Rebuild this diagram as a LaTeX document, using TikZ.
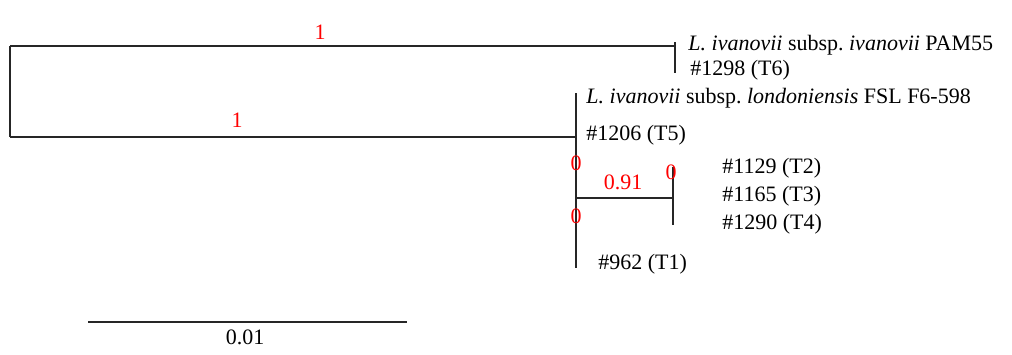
\documentclass[tikz,border=0pt]{standalone}
\usepackage{fontspec}
\setmainfont{Liberation Serif}
\usetikzlibrary{positioning}
\frenchspacing

\begin{document}
\begin{tikzpicture}[x=0.5pt,y=-0.5pt]
    \tikzstyle{branch}=[draw=black!85, line width=1pt]
    \tikzstyle{leaf}=[anchor=west, inner sep=0pt, font=\fontsize{11}{13}\selectfont]
    \tikzstyle{support}=[inner sep=0pt, text=red, font=\fontsize{11}{13}\selectfont]
    \tikzstyle{annot}=[inner sep=0pt, font=\fontsize{11}{13}\selectfont]

    \useasboundingbox (0,0) rectangle (1012,354);

    % Tree junctions
    \coordinate (R-1) at (10,46);
    \coordinate (R-2) at (10,137);
    \coordinate (A) at (675,46);
    \coordinate (A-1) at (675,42);
    \coordinate (A-2) at (675,73);
    \coordinate (B) at (576,137);
    \coordinate (B-1) at (576,93);
    \coordinate (B-2) at (576,268);
    \coordinate (C) at (576,198);
    \coordinate (D) at (673,198);
    \coordinate (D-1) at (673,167);
    \coordinate (D-2) at (673,225);

    % Draw the leaf labels
    \node[leaf] (L-1) at (688,45) {\textit{L. ivanovii} subsp. \textit{ivanovii} PAM55};
    \node[leaf] (L-2) at (690,70) {\#1298 (T6)};
    \node[leaf] (L-3) at (586,98) {\textit{L. ivanovii} subsp. \textit{londoniensis} FSL F6-598};
    \node[leaf] (L-4) at (586,135) {\#1206 (T5)};
    \foreach \name / \y / \t in {5/168/1129 (T2), 6/196/1165 (T3), 7/224/1290 (T4)}
      \node[leaf] (L-\name) at (722,\y) {\#\t};
    \node[leaf] (L-8) at (598,264) {\#962 (T1)};

    % Draw the branches
    \path[branch] (R-1) -- (R-2);
    \path[branch] (R-1) -- (A);
    \path[branch] (A-1) -- (A-2);
    \path[branch] (R-2) -- (B);
    \path[branch] (B-1) -- (B-2);
    \path[branch] (C) -- (D);
    \path[branch] (D-1) -- (D-2);

    % Support values
    \node[support] (S-1) at (320,32) {1};
    \node[support] (S-2) at (237,120) {1};
    \node[support] (S-3) at (623,182) {0.91};
    \foreach \name / \x / \y in {4/576/163, 5/576/216, 6/671/172}
      \node[support] (S-\name) at (\x,\y) {0};

    % Scale bar
    \coordinate (K-1) at (88,322);
    \coordinate (K-2) at (407,322);
    \path[branch] (K-1) -- (K-2);
    \node[annot] (K) at (245,337) {0.01};
\end{tikzpicture}
\end{document}
